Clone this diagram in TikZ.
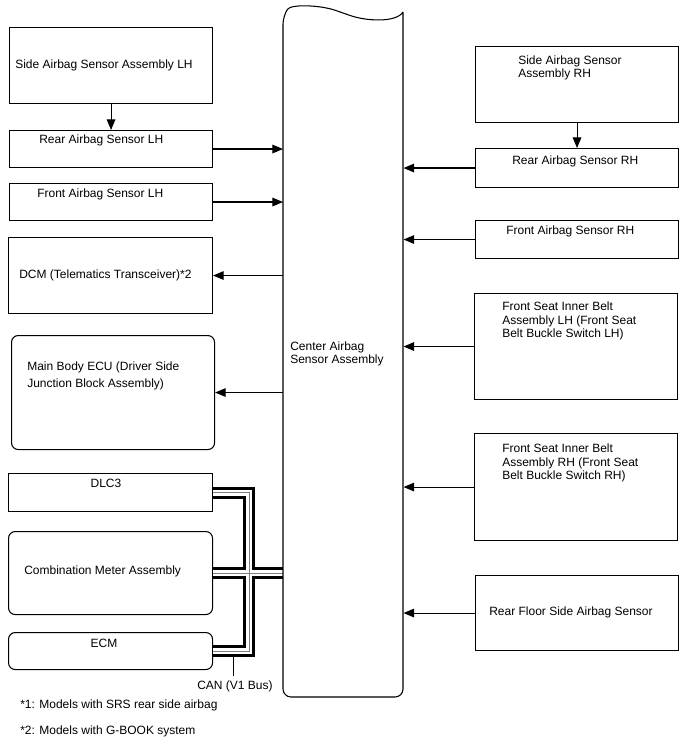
\documentclass[tikz,border=0pt]{standalone}
\usepackage{fontspec}
\setmainfont{Liberation Sans}
\usetikzlibrary{arrows.meta}

\tikzset{
  box/.style={draw, line width=0.8pt, anchor=north west, inner sep=0pt},
  rbox/.style={box, rounded corners=5pt},
  sz/.style 2 args={minimum width=#1*0.75pt, minimum height=#2*0.75pt},
  txt/.style={anchor=west, align=left, inner sep=0pt, font=\fontsize{9}{10.3}\selectfont},
  sig/.style={line width=0.8pt, -{Triangle[length=8pt, width=6.5pt]}},
}

\begin{document}
\begin{tikzpicture}[x=0.75pt, y=-0.75pt]
\useasboundingbox (0,0) rectangle (688,755);

% left column
\node[box, sz={203}{76}] (sideL) at (9,27) {};
\node[box, sz={203}{37}] (rearL) at (9,130) {};
\node[box, sz={203}{37}] (frontL) at (9,183) {};
\node[box, sz={204}{76}] (dcm) at (8,237) {};
\node[rbox, sz={203}{114}] (mbecu) at (11,335) {};
\node[box, sz={204}{38}] (dlc) at (8,473) {};
\node[rbox, sz={204}{83}] (cmb) at (8,531) {};
\node[rbox, sz={204}{37}] (ecm) at (8,632) {};

% right column
\node[box, sz={203}{76}] (sideR) at (475,46) {};
\node[box, sz={203}{39}] (rearR) at (475,148) {};
\node[box, sz={203}{38}] (frontR) at (475,220) {};
\node[box, sz={203}{106}] (beltL) at (474,293) {};
\node[box, sz={203}{107}] (beltR) at (474,433) {};
\node[box, sz={203}{75}] (floorR) at (475,575) {};

% center unit
\node[anchor=north west, inner sep=0pt, sz={120}{683}] (ctr) at (283,14) {};

% labels
\node[txt] (tSideL) at (15,65) {Side Airbag Sensor Assembly LH};
\node[txt] (tRearL) at (39,140) {Rear Airbag Sensor LH};
\node[txt] (tFrontL) at (37,194) {Front Airbag Sensor LH};
\node[txt] (tDcm) at (19,275) {DCM (Telematics Transceiver)*2};
\node[txt, font=\fontsize{9}{12.5}\selectfont] (tMb) at (27,376) {Main Body ECU (Driver Side\\Junction Block Assembly)};
\node[txt, anchor=center] (tDlc) at (106,483) {DLC3};
\node[txt] (tCmb) at (24,571) {Combination Meter Assembly};
\node[txt, anchor=center] (tEcm) at (104,643) {ECM};
\node[txt] (tCtr) at (290,354) {Center Airbag\\Sensor Assembly};
\node[txt] (tSideR) at (518,68) {Side Airbag Sensor\\Assembly RH};
\node[txt] (tRearR) at (512,161) {Rear Airbag Sensor RH};
\node[txt] (tFrontR) at (506,231) {Front Airbag Sensor RH};
\node[txt] (tBeltL) at (502,321) {Front Seat Inner Belt\\Assembly LH (Front Seat\\Belt Buckle Switch LH)};
\node[txt] (tBeltR) at (502,463) {Front Seat Inner Belt\\Assembly RH (Front Seat\\Belt Buckle Switch RH)};
\node[txt] (tFloorR) at (489,612) {Rear Floor Side Airbag Sensor};
\node[txt] (note1) at (20,705) {*1: Models with SRS rear side airbag};
\node[txt] (note2) at (20,731) {*2: Models with G-BOOK system};

% signal lines
\draw[sig] (sideL.south) -- (rearL.north);
\draw[sig] (rearL.east) -- (rearL.east -| ctr.west);
\draw[sig] (frontL.east) -- (frontL.east -| ctr.west);
\draw[sig] (dcm.east -| ctr.west) -- (dcm.east);
\draw[sig] (mbecu.east -| ctr.west) -- (mbecu.east);
\draw[sig] (sideR.south) -- (rearR.north);
\draw[sig] (rearR.west) -- (rearR.west -| ctr.east);
\draw[sig] (frontR.west) -- (frontR.west -| ctr.east);
\draw[sig] (beltL.west) -- (beltL.west -| ctr.east);
\draw[sig] (beltR.west) -- (beltR.west -| ctr.east);
\draw[sig] (floorR.west) -- (floorR.west -| ctr.east);

% CAN bus
\coordinate (trunk) at (249,0);
\foreach \w/\c in {9/black, 4.5/white, 0.75/gray}{
  \draw[line width=\w pt, \c] (dlc.east) -| (trunk |- ecm.east) -- (ecm.east);
  \draw[line width=\w pt, \c] (cmb.east) -- (cmb.east -| ctr.west);
}
\coordinate (tk) at (233,657);
\node[txt, anchor=center] (can) at (235,686) {CAN (V1 Bus)};
\draw[line width=0.6pt] (can.north -| tk) ++(0,-4) -- (tk);

% center unit outline
\draw[line width=0.8pt, rounded corners=6pt] (403,12) -- (403,697) -- (283,697) -- (283,16)
  .. controls (291,4) and (320,5) .. (343,13) .. controls (366,21) and (396,23) .. (403,12);

\end{tikzpicture}
\end{document}
